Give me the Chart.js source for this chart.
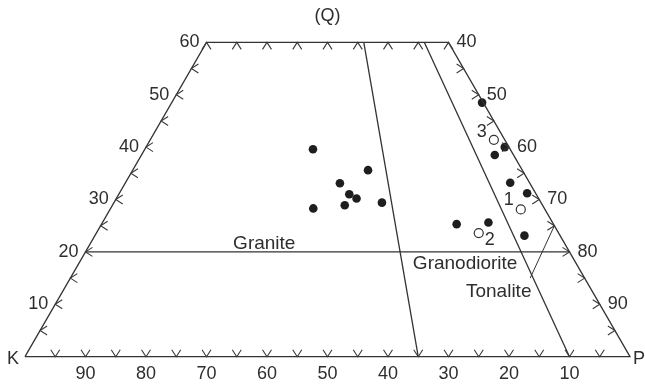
<!DOCTYPE html>
<html>
<head>
<meta charset="utf-8">
<script src="https://cdn.jsdelivr.net/npm/chart.js@4/dist/chart.umd.min.js"></script>
<style>
  body { margin: 0; background: #fff; }
  #wrap { width: 645px; height: 385px; }
</style>
</head>
<body>
<div id="wrap"><canvas id="qapChart"></canvas></div>
<script>
// ternary values (Q, P in %, K = 100 - Q - P)
const filledQ = [39.6, 35.6, 33.1, 31.0, 30.2, 28.3, 28.9, 29.4, 48.5, 40.0, 38.5, 33.2, 31.2, 25.3, 25.6, 23.1];
const filledP = [27.8, 38.9, 35.5, 38.1, 39.7, 33.5, 38.4, 44.3, 51.3, 59.3, 58.4, 63.6, 67.4, 58.7, 63.8, 71.0];
const openNames = ['1', '2', '3'];
const openQ = [28.1, 23.6, 41.4];
const openP = [67.9, 63.2, 56.8];
const qLabels = [10, 20, 30, 40, 50, 60];
const pLabels = [40, 50, 60, 70, 80, 90];
const kLabels = [90, 80, 70, 60, 50, 40, 30, 20, 10];
const ratioLines = [65, 90];           // P/(K+P) %, from Q = 0 to Q = 60
const fieldNames = ['Granite', 'Granodiorite', 'Tonalite'];

const H = Math.sqrt(3) / 2;
function tern(q, p) { return { x: p + q / 2, y: q * H }; }

const frame = [tern(0, 0), tern(0, 100), tern(60, 40), tern(60, 0), tern(0, 0)];
const graniteLine = [tern(20, 0), tern(20, 80)];
const ratioData = ratioLines.map(r => [tern(0, r), tern(60, 40 * r / 100)]);
const tonaliteCut = [tern(25, 75), tern(15, 76)];

const lineStyle = { showLine: true, borderColor: '#333', borderWidth: 1.3, pointRadius: 0, fill: false };

const ink = '#2e2e2e';
const decor = {
  id: 'decor',
  afterDatasetsDraw(chart) {
    const c = chart.ctx, xs = chart.scales.x, ys = chart.scales.y;
    const px = (q, p) => { const t = tern(q, p); return [xs.getPixelForValue(t.x), ys.getPixelForValue(t.y)]; };
    const w = 4.5, l = 7;
    c.save();
    c.strokeStyle = '#3a3a3a'; c.lineWidth = 1.1;
    c.beginPath();
    for (let k = 5; k <= 95; k += 5) { const [x, y] = px(0, 100 - k); c.moveTo(x - w, y - l); c.lineTo(x, y); c.lineTo(x + w, y - l); }
    for (let p = 0; p <= 40; p += 5) { const [x, y] = px(60, p); c.moveTo(x - w, y + l); c.lineTo(x, y); c.lineTo(x + w, y + l); }
    for (let q = 5; q <= 55; q += 5) { const [x, y] = px(q, 0); c.moveTo(x + l, y - w); c.lineTo(x, y); c.lineTo(x + l, y + w); }
    for (let p = 45; p <= 95; p += 5) { const [x, y] = px(100 - p, p); c.moveTo(x - l, y - w); c.lineTo(x, y); c.lineTo(x - l, y + w); }
    c.stroke();

    c.fillStyle = ink;
    c.font = '18px "Liberation Sans", Arial, sans-serif';
    c.textBaseline = 'middle';
    c.textAlign = 'right';
    qLabels.forEach(q => { const [x, y] = px(q, 0); c.fillText(String(q), x - 7, y); });
    c.textAlign = 'left';
    pLabels.forEach(p => { const [x, y] = px(100 - p, p); c.fillText(String(p), x + 8, y); });
    c.textAlign = 'center';
    kLabels.forEach(k => { const [x, y] = px(0, 100 - k); c.fillText(String(k), x, y + 17); });
    const [kx, ky] = px(0, 0), [pX, pY] = px(0, 100);
    c.fillText('K', kx - 12, ky + 2);
    c.fillText('P', pX + 9, pY + 2);
    const [qx] = px(60, 20);
    c.fillText('(Q)', qx, 16);

    openNames.forEach((n, i) => {
      const off = { '1': [-12, -9], '2': [11, 7], '3': [-12, -8] }[n];
      const [x, y] = px(openQ[i], openP[i]);
      c.fillText(n, x + off[0], y + off[1]);
    });

    c.font = '19px "Liberation Sans", Arial, sans-serif';
    const fieldPos = [[21.5, 28.8], [17.7, 63.9], [12.4, 72.1]];
    fieldNames.forEach((n, i) => { const [x, y] = px(fieldPos[i][0], fieldPos[i][1]); c.fillText(n, x, y); });
    c.restore();
  }
};

new Chart(document.getElementById('qapChart'), {
  type: 'scatter',
  data: {
    datasets: [
      Object.assign({ data: frame }, lineStyle),
      Object.assign({ data: graniteLine }, lineStyle),
      Object.assign({ data: ratioData[0] }, lineStyle),
      Object.assign({ data: ratioData[1] }, lineStyle),
      Object.assign({ data: tonaliteCut }, lineStyle, { borderWidth: 1 }),
      {
        data: filledQ.map((q, i) => tern(q, filledP[i])),
        pointRadius: 4.3, backgroundColor: '#1e1e1e', borderColor: '#1e1e1e', borderWidth: 0
      },
      {
        data: openQ.map((q, i) => tern(q, openP[i])),
        pointRadius: 4.5, backgroundColor: '#fff', borderColor: '#333', borderWidth: 1.2
      }
    ]
  },
  options: {
    responsive: true,
    maintainAspectRatio: false,
    animation: false,
    layout: { padding: 0, autoPadding: false },
    scales: {
      x: { type: 'linear', display: false, min: -4.132, max: 102.48 },
      y: { type: 'linear', display: false, min: -4.68, max: 58.96 }
    },
    plugins: { legend: { display: false }, tooltip: { enabled: false } }
  },
  plugins: [decor]
});
</script>
</body>
</html>
